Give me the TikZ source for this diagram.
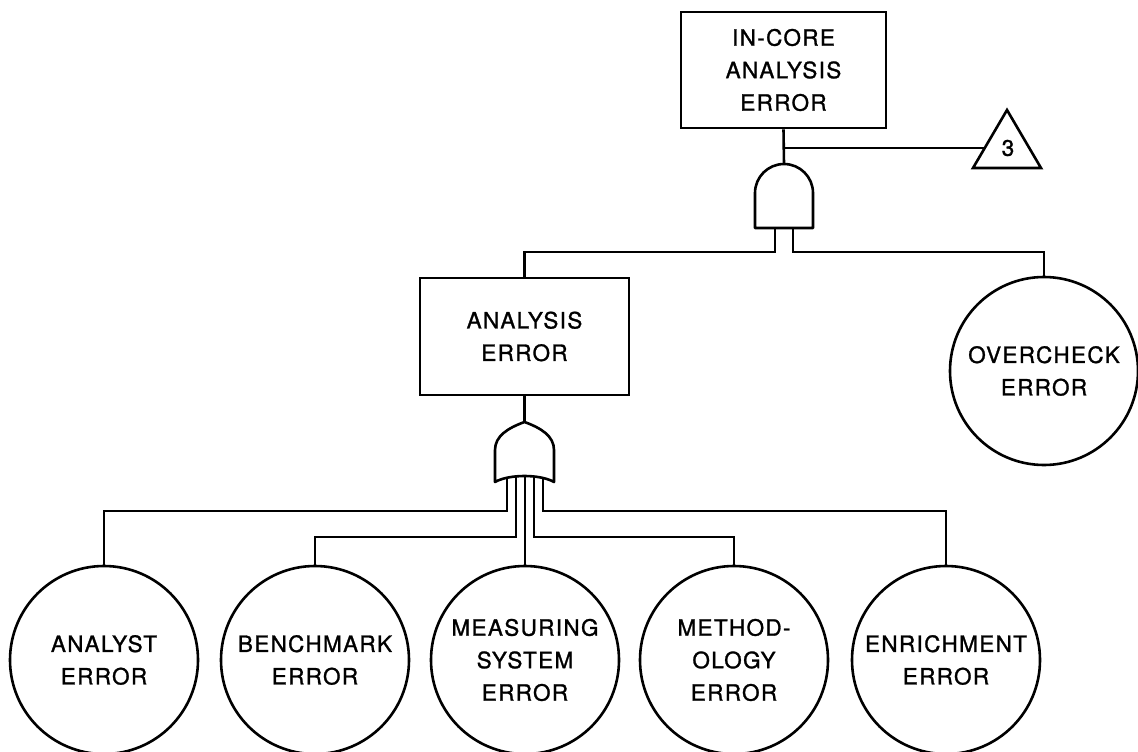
\documentclass[tikz,border=0pt]{standalone}
\usepackage{fontspec}
\setmainfont{TeX Gyre Heros}[LetterSpace=6,FakeBold=1.2]
\newcommand\evtfont{\fontsize{22.5}{32.5}\selectfont}
\begin{document}
\begin{tikzpicture}[x=1pt,y=-1pt,line width=2.6pt,
  evt/.style={draw,rectangle,align=center,inner sep=0pt,font=\evtfont},
  basic/.style={draw,circle,align=center,inner sep=0pt,minimum size=188pt,font=\evtfont},
  gate/.style={draw,fill=white,line join=round},
  wire/.style={draw,line join=miter}]
\useasboundingbox (0,0) rectangle (1138,752);
% events
\node[evt,minimum width=205pt,minimum height=116pt] (top) at (783.5,70) {IN-CORE\\ANALYSIS\\ERROR};
\node[evt,minimum width=209pt,minimum height=117pt] (ana) at (524.5,336.5) {ANALYSIS\\ERROR};
\node[basic] (over) at (1044,371) {OVERCHECK\\ERROR};
\node[basic] (b1) at (104,660) {ANALYST\\ERROR};
\node[basic] (b2) at (315,660) {BENCHMARK\\ERROR};
\node[basic] (b3) at (525,660) {MEASURING\\SYSTEM\\ERROR};
\node[basic] (b4) at (734,660) {METHOD-\\OLOGY\\ERROR};
\node[basic] (b5) at (946,660) {ENRICHMENT\\ERROR};
% transfer triangle
\coordinate (triA) at (973,168);
\coordinate (triB) at (1007,110);
\coordinate (triC) at (1041,168);
\coordinate (trileft) at (984.5,148);
\draw[line join=miter] (triA) -- (triB) -- (triC) -- cycle;
\node[font=\evtfont,inner sep=0pt] (tri) at (1008,148) {3};
% gate coordinates
\coordinate (andtop) at (784,164);
\coordinate (andL) at (775,220);
\coordinate (andR) at (793,220);
\coordinate (ortop) at (524.5,422);
\coordinate (or1) at (507,472);
\coordinate (or2) at (516,472);
\coordinate (or3) at (525,472);
\coordinate (or4) at (534,472);
\coordinate (or5) at (543,472);
\coordinate (busA) at (0,252);
\coordinate (busO) at (0,511);
\coordinate (busI) at (0,537);
% connectors
\draw[wire] (top.south) -- (andtop);
\draw[wire] (top.south |- trileft) -- (trileft);
\draw[wire] (andL) |- (ana.north |- busA) -- (ana.north);
\draw[wire] (andR) |- (over.north |- busA) -- (over.north);
\draw[wire] (ana.south) -- (ortop);
\draw[wire] (or1) |- (b1.north |- busO) -- (b1.north);
\draw[wire] (or5) |- (b5.north |- busO) -- (b5.north);
\draw[wire] (or2) |- (b2.north |- busI) -- (b2.north);
\draw[wire] (or4) |- (b4.north |- busI) -- (b4.north);
\draw[wire] (or3) -- (b3.north);
% AND gate
\draw[gate] (755,228) -- (755,193) .. controls (755,177) and (768,164) .. (784,164)
  .. controls (800,164) and (813,177) .. (813,193) -- (813,228) -- cycle;
% OR gate
\draw[gate] (495,482) -- (495,450) .. controls (495,436) and (508,428) .. (524.5,422)
  .. controls (541,428) and (554,436) .. (554,450) -- (554,482)
  .. controls (540,474) and (509,474) .. (495,482) -- cycle;
\end{tikzpicture}
\end{document}
